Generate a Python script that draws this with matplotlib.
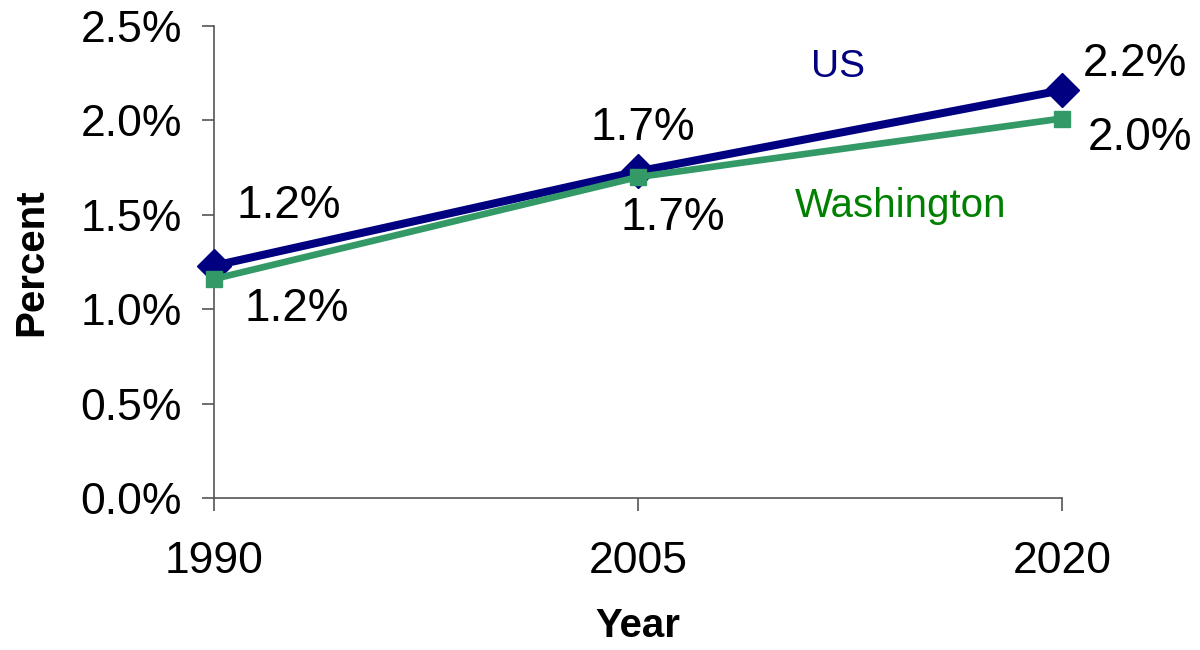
import matplotlib
matplotlib.use('Agg')
import matplotlib.pyplot as plt
from matplotlib.ticker import PercentFormatter

years = ['1990', '2005', '2020']
us_values = [1.23, 1.73, 2.16]
wa_values = [1.16, 1.70, 2.01]
us_labels = ['1.2%', '1.7%', '2.2%']
wa_labels = ['1.2%', '1.7%', '2.0%']
y_ticks = [0.0, 0.5, 1.0, 1.5, 2.0, 2.5]

plt.rcParams['font.family'] = ['Liberation Sans', 'DejaVu Sans']

fig = plt.figure(figsize=(12, 6.5), dpi=100)
ax = fig.add_axes([214 / 1200, 1 - 498 / 650, (1062 - 214) / 1200, (498 - 26) / 650])

x = list(range(len(years)))
ax.plot(x, us_values, color='#000080', lw=5.8, marker='D', markersize=17,
        clip_on=False, zorder=3)
ax.plot(x, wa_values, color='#339966', lw=4.8, marker='s', markersize=11,
        clip_on=False, zorder=4)

ax.set_xlim(0, 2)
ax.set_ylim(0, 2.5)
ax.set_xticks(x)
ax.set_xticklabels(years)
ax.set_yticks(y_ticks)
ax.yaxis.set_major_formatter(PercentFormatter(decimals=1))

for s in ['top', 'right']:
    ax.spines[s].set_visible(False)
for s in ['left', 'bottom']:
    ax.spines[s].set_color('#555555')
    ax.spines[s].set_linewidth(1.2)
ax.tick_params(axis='y', direction='out', length=9, width=1.2, color='#555555',
               labelsize=32, pad=14)
ax.tick_params(axis='x', direction='out', length=9, width=1.2, color='#555555',
               labelsize=32, pad=22)

ax.set_ylabel('Percent', fontsize=29, fontweight='bold', labelpad=22)
ax.set_xlabel('Year', fontsize=29, fontweight='bold', labelpad=18)

# data labels, offsets in pixels from each point
us_offsets = [(75, 60), (5, 43), (73, 26)]
wa_offsets = [(83, -30), (35, -41), (78, -19)]
for i in x:
    ax.annotate(us_labels[i], (i, us_values[i]), xytext=us_offsets[i],
                textcoords='offset pixels', ha='center', va='center', fontsize=33)
    ax.annotate(wa_labels[i], (i, wa_values[i]), xytext=wa_offsets[i],
                textcoords='offset pixels', ha='center', va='center', fontsize=33)

ax.text(838 / 1200, 1 - 67 / 650, 'US', transform=fig.transFigure,
        ha='center', va='center', fontsize=28, color='#000080')
ax.text(901 / 1200, 1 - 206 / 650, 'Washington', transform=fig.transFigure,
        ha='center', va='center', fontsize=29, color='#008000')

fig.savefig('out.png', dpi=100)
